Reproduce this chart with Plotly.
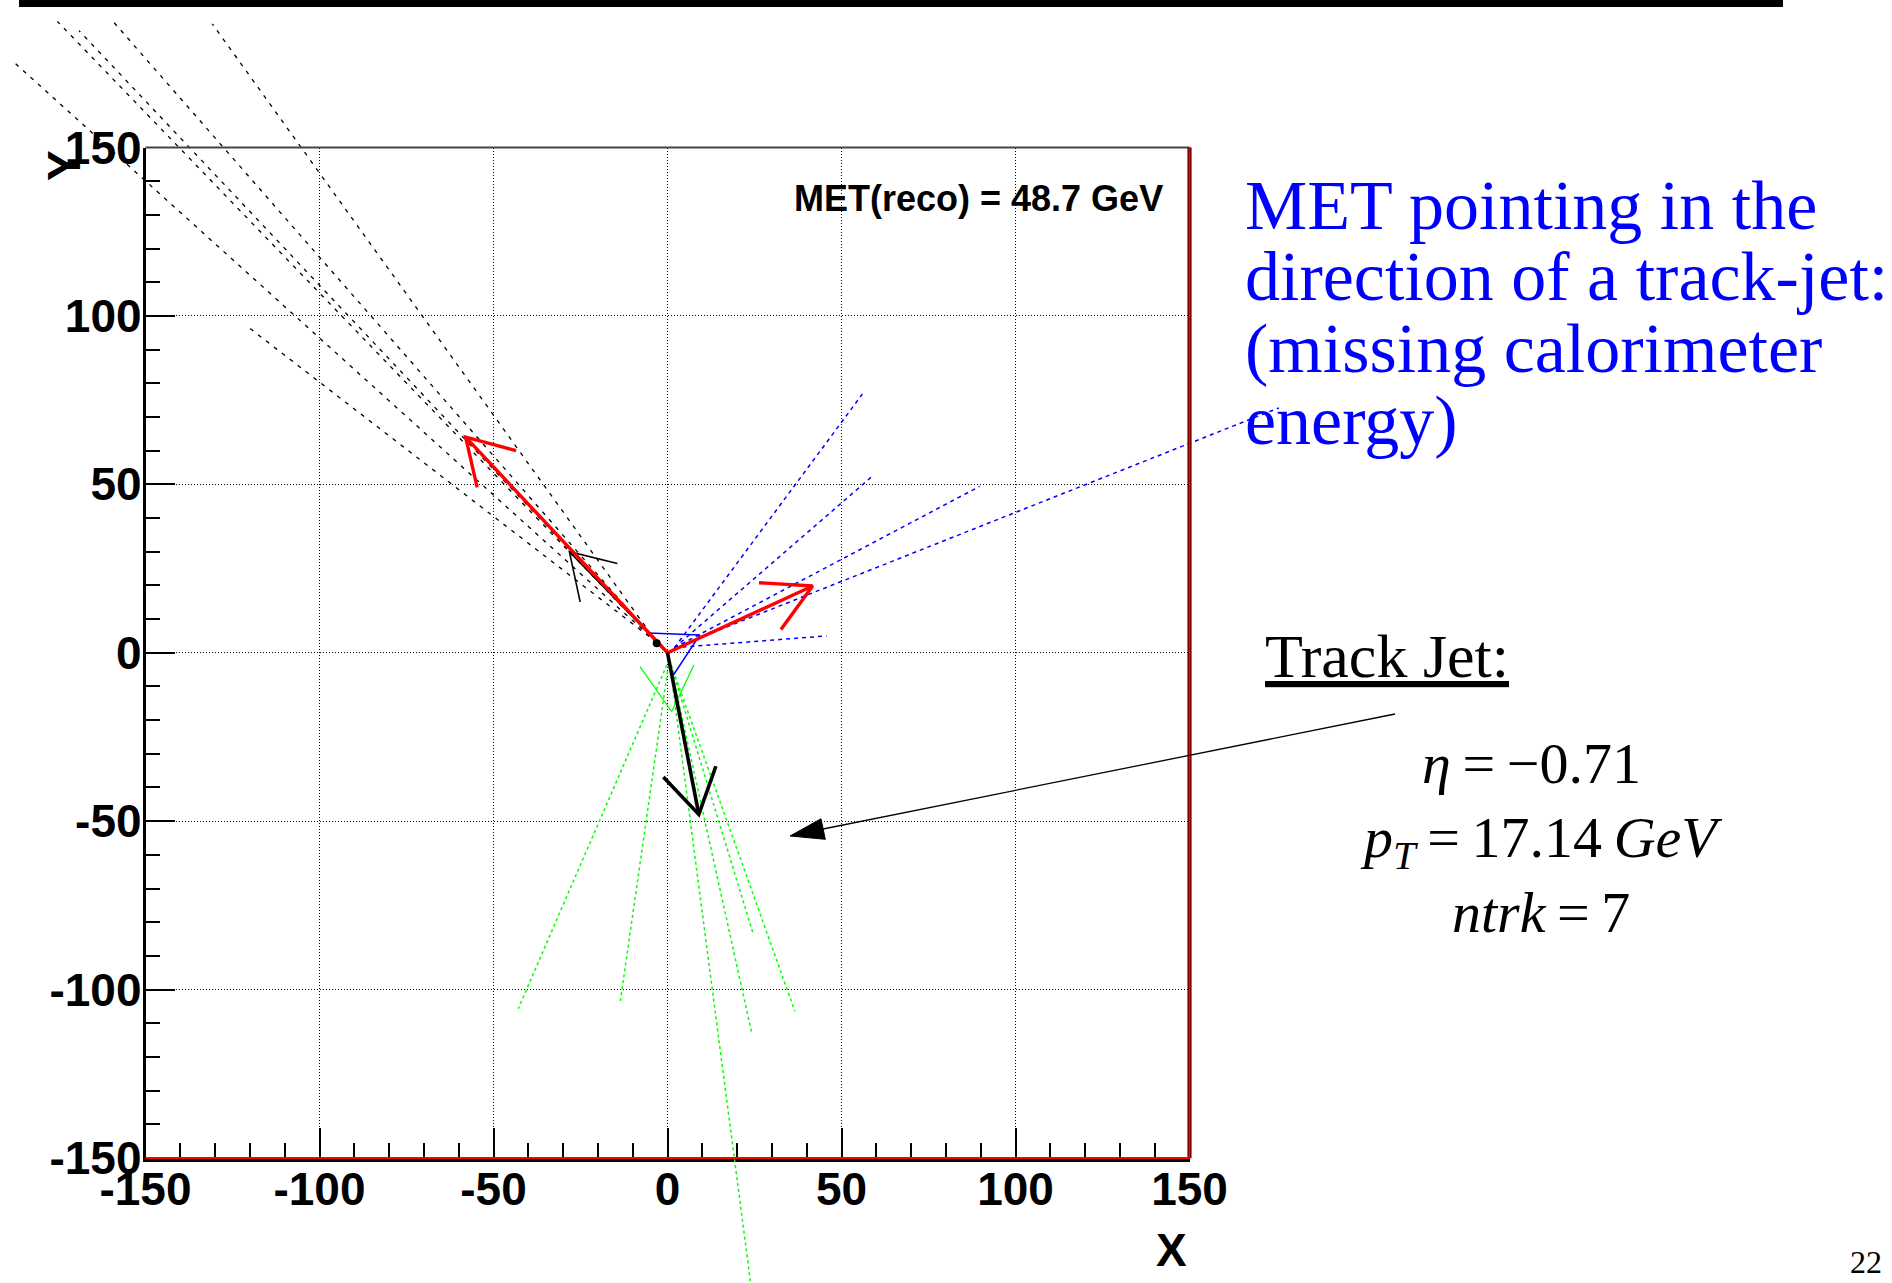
import plotly.graph_objects as go

W, H = 1892, 1283

# ---------------- data ----------------
tick_vals = [-150, -100, -50, 0, 50, 100, 150]
tick_text = ["-150", "-100", "-50", "0", "50", "100", "150"]

# black dashed tracks (start -> end), data units
blk_trk_x0 = [-3.0, -3.0, -3.0, -3.0, -3.0, -3.0]
blk_trk_y0 = [3.0, 3.0, 3.0, 3.0, 3.0, 3.0]
blk_trk_x1 = [-188.0, -175.3, -169.1, -159.3, -130.8, -120.0]
blk_trk_y1 = [175.5, 187.4, 184.7, 187.4, 186.7, 96.3]

# blue dashed tracks
blu_trk_x0 = [2.0, 2.0, 2.0, 2.0, 2.0]
blu_trk_y0 = [1.5, 1.5, 1.5, 1.5, 1.5]
blu_trk_x1 = [56.0, 59.3, 89.7, 175.7, 45.7]
blu_trk_y1 = [76.8, 52.8, 49.4, 72.7, 5.0]

# green dashed tracks
grn_trk_x0 = [0.5, 0.5, 0.5, 0.5, 0.5, 0.5]
grn_trk_y0 = [-2.0, -2.0, -2.0, -2.0, -2.0, -2.0]
grn_trk_x1 = [-42.9, -13.6, 24.2, 36.6, 24.7, 24.5]
grn_trk_y1 = [-105.7, -103.8, -112.9, -106.4, -83.7, -192.0]

# green solid "X"
grn_x_x = [-7.9, 1.2, None, 7.6, 1.2]
grn_x_y = [-4.1, -17.5, None, -3.6, -17.5]

# blue solid outline near vertex
blu_sol_x = [-5.5, 9.3, 1.7]
blu_sol_y = [5.9, 5.3, -6.6]

# arrows: tip, barb1, barb2
red_tip_x = [-58.0, 41.7]
red_tip_y = [64.0, 19.8]
red_b1_x = [-43.5, 26.3]
red_b1_y = [60.0, 20.8]
red_b2_x = [-54.7, 32.6]
red_b2_y = [49.1, 6.9]

blk_arr_tip_x = [-28.2, 9.0]
blk_arr_tip_y = [30.0, -48.0]
blk_arr_b1_x = [-14.4, -1.2]
blk_arr_b1_y = [26.5, -36.9]
blk_arr_b2_x = [-25.1, 13.9]
blk_arr_b2_y = [15.1, -33.7]
blk_arr_width = [1.6, 3.6]

vtx_x = [-3.1]
vtx_y = [2.8]

met_label = "MET(reco) = 48.7 GeV"
blue_lines = ["MET pointing in the", "direction of a track-jet:",
              "(missing calorimeter", "energy)"]
jet_title = "Track Jet:"
jet_lines = ["<i>\u03b7</i>\u2009=\u2009\u22120.71",
             "<i>p</i><sub><i>T</i></sub>\u2009=\u200917.14\u2009<i>GeV</i>",
             "<i>ntrk</i>\u2009=\u20097"]
page_no = "22"

# ---------------- geometry ----------------
XL, XR = 145.5, 1189.5   # px of x=-150 / x=150
YT, YB = 147.5, 1158.0   # px of y=150 / y=-150
sx = (XR - XL) / 300.0
sy = (YB - YT) / 300.0
x2_range = [-150 - XL / sx, 150 + (W - XR) / sx]
y2_range = [-150 - (H - YB) / sy, 150 + YT / sy]


def px(x):
    return x / W


def py(y):
    return 1 - y / H


fig = go.Figure()

# invisible trace so that the framed x/y subplot is drawn
fig.add_trace(go.Scatter(x=[0], y=[0], mode="markers", xaxis="x", yaxis="y",
                         marker=dict(opacity=0), hoverinfo="skip", showlegend=False))


def seg_trace(x0, y0, x1, y1, color, width, dash):
    xs, ys = [], []
    for a, b, c, d in zip(x0, y0, x1, y1):
        xs += [a, c, None]
        ys += [b, d, None]
    fig.add_trace(go.Scatter(x=xs, y=ys, mode="lines", xaxis="x2", yaxis="y2",
                             line=dict(color=color, width=width, dash=dash),
                             hoverinfo="skip", showlegend=False))


seg_trace(blk_trk_x0, blk_trk_y0, blk_trk_x1, blk_trk_y1, "black", 1.3, "4px,6px")
seg_trace(blu_trk_x0, blu_trk_y0, blu_trk_x1, blu_trk_y1, "#0000ff", 1.5, "4px,4px")
seg_trace(grn_trk_x0, grn_trk_y0, grn_trk_x1, grn_trk_y1, "#00ff00", 1.5, "3px,3px")

fig.add_trace(go.Scatter(x=grn_x_x, y=grn_x_y, mode="lines", xaxis="x2", yaxis="y2",
                         line=dict(color="#00ff00", width=1.2), hoverinfo="skip", showlegend=False))
fig.add_trace(go.Scatter(x=blu_sol_x, y=blu_sol_y, mode="lines", xaxis="x2", yaxis="y2",
                         line=dict(color="#0000ff", width=1.5), hoverinfo="skip", showlegend=False))


def arrow(tx, ty, b1x, b1y, b2x, b2y, color, width):
    fig.add_trace(go.Scatter(x=[0, tx, None, b1x, tx, b2x],
                             y=[0, ty, None, b1y, ty, b2y],
                             mode="lines", xaxis="x2", yaxis="y2",
                             line=dict(color=color, width=width),
                             hoverinfo="skip", showlegend=False))


# thin black arrow (under red)
arrow(blk_arr_tip_x[0], blk_arr_tip_y[0], blk_arr_b1_x[0], blk_arr_b1_y[0],
      blk_arr_b2_x[0], blk_arr_b2_y[0], "black", blk_arr_width[0])
for i in range(len(red_tip_x)):
    arrow(red_tip_x[i], red_tip_y[i], red_b1_x[i], red_b1_y[i],
          red_b2_x[i], red_b2_y[i], "#ff0000", 3.4)
arrow(blk_arr_tip_x[1], blk_arr_tip_y[1], blk_arr_b1_x[1], blk_arr_b1_y[1],
      blk_arr_b2_x[1], blk_arr_b2_y[1], "black", blk_arr_width[1])

fig.add_trace(go.Scatter(x=vtx_x, y=vtx_y, mode="markers", xaxis="x2", yaxis="y2",
                         marker=dict(color="black", size=8), hoverinfo="skip", showlegend=False))

tickfont = dict(family="Liberation Sans, Arial", size=46, color="black", weight="bold")
common = dict(range=[-150, 150], tickmode="array", tickvals=tick_vals, ticktext=tick_text,
              ticks="inside", ticklen=30, tickwidth=1.5, tickcolor="black",
              minor=dict(ticks="inside", ticklen=15, tickwidth=1.5, tickcolor="black",
                         dtick=10, tick0=0, showgrid=False),
              showgrid=True, gridcolor="black", gridwidth=1, griddash="1px,2px",
              zeroline=False, showline=True, linecolor="black",
              tickfont=tickfont, automargin=False, fixedrange=True)

fig.update_layout(
    width=W, height=H, autosize=False,
    margin=dict(l=0, r=0, t=0, b=0, pad=0),
    paper_bgcolor="white", plot_bgcolor="rgba(0,0,0,0)",
    template="none", showlegend=False,
    xaxis=dict(domain=[px(XL), px(XR)], anchor="y", linewidth=4, ticklabelstandoff=-12, **common),
    yaxis=dict(domain=[py(YB), py(YT)], anchor="x", linewidth=2.5, ticklabelstandoff=-8, **common),
    xaxis2=dict(domain=[0, 1], range=x2_range, anchor="y2", visible=False, fixedrange=True,
                automargin=False),
    yaxis2=dict(domain=[0, 1], range=y2_range, anchor="x2", visible=False, fixedrange=True,
                automargin=False),
)

shapes = [
    # slide top bar
    dict(type="rect", xref="paper", yref="paper", x0=px(19), x1=px(1783), y0=py(0), y1=py(7),
         fillcolor="black", line=dict(width=0), layer="above"),
    # frame: top
    dict(type="line", xref="paper", yref="paper", x0=px(XL), x1=px(XR), y0=py(YT), y1=py(YT),
         line=dict(color="#444444", width=2), layer="above"),
    # right: black + red
    dict(type="line", xref="paper", yref="paper", x0=px(XR), x1=px(XR), y0=py(YT), y1=py(YB),
         line=dict(color="black", width=4), layer="above"),
    dict(type="line", xref="paper", yref="paper", x0=px(XR), x1=px(XR), y0=py(YT), y1=py(YB),
         line=dict(color="#ff0000", width=2), layer="above"),
    # bottom red over black axis line
    dict(type="line", xref="paper", yref="paper", x0=px(XL), x1=px(XR + 1), y0=py(YB), y1=py(YB),
         line=dict(color="#ff0000", width=2), layer="above"),
]

# annotation arrow (line + filled head)
arr_start = (1395, 714)
shapes.append(dict(type="line", xref="paper", yref="paper",
                   x0=px(arr_start[0]), y0=py(arr_start[1]), x1=px(823), y1=py(829),
                   line=dict(color="black", width=1.3), layer="above"))
head = [(790, 836), (825.3, 839.3), (821.0, 818.8)]
path = "M {} {} L {} {} L {} {} Z".format(*[v for p in head for v in (px(p[0]), py(p[1]))])
shapes.append(dict(type="path", xref="paper", yref="paper", path=path,
                   fillcolor="black", line=dict(color="black", width=1), layer="above"))
fig.update_layout(shapes=shapes)

ann = []
ann.append(dict(text=met_label, x=px(1165), y=py(198), xanchor="right", yanchor="middle",
                font=dict(family="Liberation Sans, Arial", size=36, color="black", weight="bold")))
ann.append(dict(text="X", x=px(1171), y=py(1250), xanchor="center", yanchor="middle",
                font=dict(family="Liberation Sans, Arial", size=46, color="black", weight="bold")))
ann.append(dict(text="Y", x=px(64), y=py(166), xanchor="center", yanchor="middle", textangle=-90,
                font=dict(family="Liberation Sans, Arial", size=46, color="black", weight="bold")))
blue_centers = [205.5, 276.7, 348, 420.3]
for t, yc in zip(blue_lines, blue_centers):
    ann.append(dict(text=t, x=px(1243), y=py(yc), xanchor="left", yanchor="middle",
                    font=dict(family="Liberation Serif, Times New Roman", size=70, color="#0000ff")))
ann.append(dict(text="<u>" + jet_title + "</u>", x=px(1263), y=py(656), xanchor="left", yanchor="middle",
                font=dict(family="Liberation Serif, Times New Roman", size=62, color="black")))
jet_centers = [764, 841, 912]
jet_cx = [1531, 1541, 1541]
for t, yc, xc in zip(jet_lines, jet_centers, jet_cx):
    ann.append(dict(text=t, x=px(xc), y=py(yc), xanchor="center", yanchor="middle",
                    font=dict(family="Liberation Serif, Times New Roman", size=58, color="black")))
ann.append(dict(text=page_no, x=px(1866), y=py(1262), xanchor="center", yanchor="middle",
                font=dict(family="Liberation Serif, Times New Roman", size=32, color="black")))
for a in ann:
    a.update(xref="paper", yref="paper", showarrow=False)
fig.update_layout(annotations=ann)

fig.write_html("out.html", config={"displayModeBar": False})
